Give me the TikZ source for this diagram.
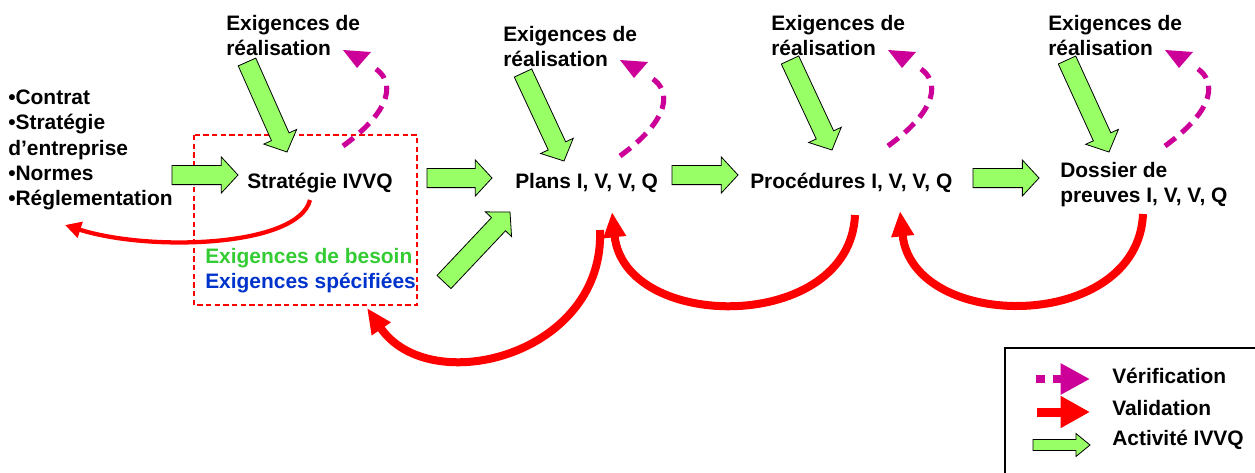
\documentclass[tikz,border=0pt]{standalone}
\usepackage{fontspec}
\setmainfont{Liberation Sans}
\usetikzlibrary{arrows.meta,calc}

\definecolor{vertclair}{RGB}{153,255,102}
\definecolor{verifcol}{RGB}{204,0,153}
\definecolor{besoincol}{RGB}{51,204,51}
\definecolor{specifcol}{RGB}{0,51,204}

\tikzset{
  txt/.style={font=\fontsize{15.7}{18.8}\selectfont\bfseries, inner sep=0pt, align=left},
  activite/.style={fill=vertclair, draw=black, line width=0.6pt, line join=miter},
  validation/.style={draw=red, line width=6pt, -{Triangle[width=16pt,length=19pt]}},
  verification/.style={draw=verifcol, line width=3.8pt, dash pattern=on 10pt off 6pt},
  cadre/.style={draw=red, line width=1.1pt, dash pattern=on 4pt off 2.5pt}
}

\newcommand{\arrbody}{7.2pt}
\newcommand{\arrhead}{13.5pt}
\newcommand{\arrlen}{12.5pt}
% fat green arrow from #1 to #2
\newcommand{\fleche}[2]{%
  \draw[activite] let \p1=($(#2)-(#1)$), \n1={atan2(\y1,\x1)}, \n2={veclen(\x1,\y1)-\arrlen} in
    ($(#1)+(\n1+90:\arrbody)$) -- ($(#1)+(\n1:\n2)+(\n1+90:\arrbody)$)
    -- ($(#1)+(\n1:\n2)+(\n1+90:\arrhead)$) -- (#2)
    -- ($(#1)+(\n1:\n2)+(\n1-90:\arrhead)$) -- ($(#1)+(\n1:\n2)+(\n1-90:\arrbody)$)
    -- ($(#1)+(\n1-90:\arrbody)$) -- cycle;}

\begin{document}
\begin{tikzpicture}[x=0.75pt,y=-0.75pt]
\useasboundingbox (0,0) rectangle (1255,472);

% texts
\node[txt, anchor=north west] (entrees) at (8,90) {•Contrat\\•Stratégie\\d’entreprise\\•Normes\\•Réglementation};
\node[txt, anchor=base west] (strat) at (247,188) {Stratégie IVVQ};
\node[txt, anchor=base west] (plans) at (515,188) {Plans I, V, V, Q};
\node[txt, anchor=base west] (proc) at (750,188) {Procédures I, V, V, Q};
\node[txt, anchor=north west] (dossier) at (1060,162) {Dossier de\\preuves I, V, V, Q};
\foreach \i/\x/\y in {1/226/15, 2/503/26, 3/771/15, 4/1048/15}
  \node[txt, anchor=north west] (exig\i) at (\x,\y) {Exigences de\\réalisation};

\draw[cadre] (194,135) rectangle (417,305);
\node[txt, text=besoincol, anchor=base west] (besoin) at (205,263) {Exigences de besoin};
\node[txt, text=specifcol, anchor=base west] (specif) at (205,288) {Exigences spécifiées};

% activites IVVQ
\coordinate (a1) at (172,175);  \coordinate (b1) at (238,175);
\coordinate (a2) at (427,178);  \coordinate (b2) at (492,178);
\coordinate (a3) at (672,175);  \coordinate (b3) at (738,175);
\coordinate (a4) at (973,178);  \coordinate (b4) at (1039,178);
\coordinate (c1) at (247,62);   \coordinate (d1) at (287,152);
\coordinate (c2) at (523,73);   \coordinate (d2) at (564,161);
\coordinate (c3) at (790,60);   \coordinate (d3) at (832,150);
\coordinate (c4) at (1067,60);  \coordinate (d4) at (1109,152);
\coordinate (e1) at (444,282);  \coordinate (f1) at (510,212);
\foreach \i in {1,2,3,4}{
  \fleche{a\i}{b\i}
  \fleche{c\i}{d\i}
}
\fleche{e1}{f1}

% verifications (dashed curve + head pointing down)
\foreach \i/\sx/\sy in {1/343/146, 2/620/156, 3/888/146, 4/1165/146}{
  \coordinate (vs\i) at (\sx,\sy);
  \coordinate (ve\i) at (\sx+33,\sy-77);
  \coordinate (vt\i) at (\sx+14,\sy-78);
  \draw[verification] (vs\i) .. controls ($(vs\i)+(52,-38)$) and ($(vs\i)+(50,-65)$) .. (ve\i);
  \fill[verifcol] ($(vt\i)+(-14,-18)$) -- ($(vt\i)+(14,-16)$) -- (vt\i) -- cycle;
}

% validations
\coordinate (rs1) at (310,200);  \coordinate (rt1) at (65,225);
\draw[validation, line width=3.2pt, -{Triangle[width=12pt,length=12pt]}]
  (rs1) .. controls (298,247) and (150,252) .. (rt1);
\coordinate (rs2) at (600,230);  \coordinate (rt2) at (367,308);
\draw[validation] (rs2) .. controls (605,355) and (430,400) .. (rt2);
\coordinate (rs3) at (855,215);  \coordinate (rt3) at (612,212);
\draw[validation] (rs3) .. controls (850,333) and (625,333) .. (rt3);
\coordinate (rs4) at (1143,214); \coordinate (rt4) at (900,211);
\draw[validation] (rs4) .. controls (1138,333) and (913,333) .. (rt4);

% legende
\draw[line width=1.5pt] (1005,348) rectangle (1275,495);
\coordinate (lv1) at (1036,379);  \coordinate (lv2) at (1090,379);
\draw[verification, line width=6pt, dash pattern=on 6.75pt off 6pt, -{Triangle[width=22pt,length=22pt]}] (lv1) -- (lv2);
\coordinate (lr1) at (1037,412);  \coordinate (lr2) at (1090,412);
\draw[validation, line width=6.75pt, -{Triangle[width=22.5pt,length=22pt]}] (lr1) -- (lr2);
\coordinate (la1) at (1033,445);  \coordinate (la2) at (1090,445);
{\renewcommand{\arrbody}{4.1pt}\renewcommand{\arrhead}{8.6pt}\renewcommand{\arrlen}{10.5pt}
 \fleche{la1}{la2}}
\node[txt, anchor=base west] (lverif) at (1112,383) {Vérification};
\node[txt, anchor=base west] (lvalid) at (1112,415) {Validation};
\node[txt, anchor=base west] (lactiv) at (1112,445) {Activité IVVQ};
\end{tikzpicture}
\end{document}
